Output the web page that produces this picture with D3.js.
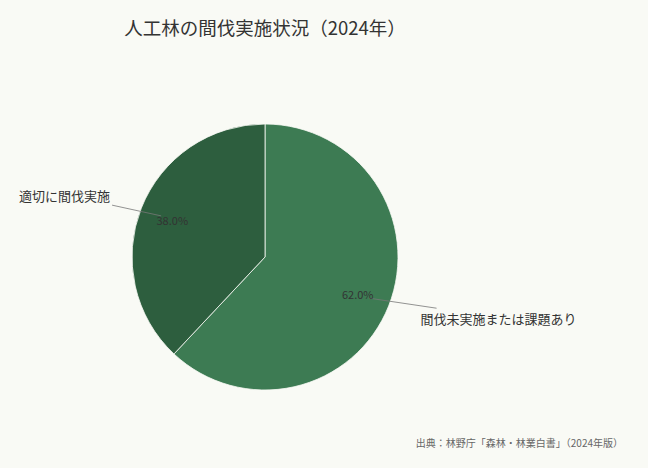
<!DOCTYPE html>
<html>
<head>
<meta charset="utf-8">
<script src="https://cdn.jsdelivr.net/npm/d3@7"></script>
<style>
  html, body { margin: 0; padding: 0; background: #f9faf5; }
  svg { display: block; font-family: "Noto Sans CJK JP", "Noto Sans", sans-serif; }
</style>
</head>
<body>
<div id="chart"></div>
<script>
// data
const categories = ['間伐未実施または課題あり', '適切に間伐実施'];
const shares = [62.0, 38.0];
const sliceColors = ['#3d7b53', '#2d5e3e'];

// label layout, relative to center in units of radius
const labelLayout = [
    { end: [1.29, 0.385], text: [1.17, 0.465], anchor: 'start' },
    { end: [-1.15, -0.39], text: [-1.165, -0.46], anchor: 'end' }
];

const width = 648, height = 468;
const cx = 265, cy = 257, radius = 133;

const svg = d3.select('#chart').append('svg')
    .attr('width', width)
    .attr('height', height);

svg.append('rect')
    .attr('width', width)
    .attr('height', height)
    .attr('fill', '#f9faf5');

svg.append('text')
    .attr('x', cx)
    .attr('y', 35)
    .attr('text-anchor', 'middle')
    .attr('font-size', 18.5)
    .attr('fill', '#333')
    .text('人工林の間伐実施状況（2024年）');

const pie = d3.pie().sort(null).value(d => d)(shares);
const arc = d3.arc().innerRadius(0).outerRadius(radius);

const g = svg.append('g')
    .attr('transform', `translate(${cx},${cy})`);

g.selectAll('path.slice')
    .data(pie)
    .enter().append('path')
    .attr('class', 'slice')
    .attr('d', arc)
    .attr('fill', (d, i) => sliceColors[i])
    .attr('stroke', '#f9faf5')
    .attr('stroke-width', 0.8);

// leader lines, from 0.84 radius to the label
const lineArc = d3.arc().innerRadius(radius * 0.84).outerRadius(radius * 0.84);
g.selectAll('line.leader')
    .data(pie)
    .enter().append('line')
    .attr('class', 'leader')
    .attr('x1', d => lineArc.centroid(d)[0])
    .attr('y1', d => lineArc.centroid(d)[1])
    .attr('x2', (d, i) => labelLayout[i].end[0] * radius)
    .attr('y2', (d, i) => labelLayout[i].end[1] * radius)
    .attr('stroke', '#777')
    .attr('stroke-width', 0.8);

// percentage text at 0.75 radius
const pctArc = d3.arc().innerRadius(radius * 0.75).outerRadius(radius * 0.75);
g.selectAll('text.pct')
    .data(pie)
    .enter().append('text')
    .attr('class', 'pct')
    .attr('transform', d => `translate(${pctArc.centroid(d)})`)
    .attr('text-anchor', 'middle')
    .attr('dominant-baseline', 'central')
    .attr('font-size', 11)
    .attr('fill', '#333')
    .text(d => d.value.toFixed(1) + '%');

g.selectAll('text.label')
    .data(pie)
    .enter().append('text')
    .attr('class', 'label')
    .attr('x', (d, i) => labelLayout[i].text[0] * radius)
    .attr('y', (d, i) => labelLayout[i].text[1] * radius)
    .attr('text-anchor', (d, i) => labelLayout[i].anchor)
    .attr('dominant-baseline', 'central')
    .attr('font-size', 13)
    .attr('fill', '#333')
    .text((d, i) => categories[i]);

svg.append('text')
    .attr('x', 623)
    .attr('y', 447)
    .attr('text-anchor', 'end')
    .attr('font-size', 10)
    .attr('fill', '#666')
    .text('出典：林野庁「森林・林業白書」（2024年版）');
</script>
</body>
</html>
